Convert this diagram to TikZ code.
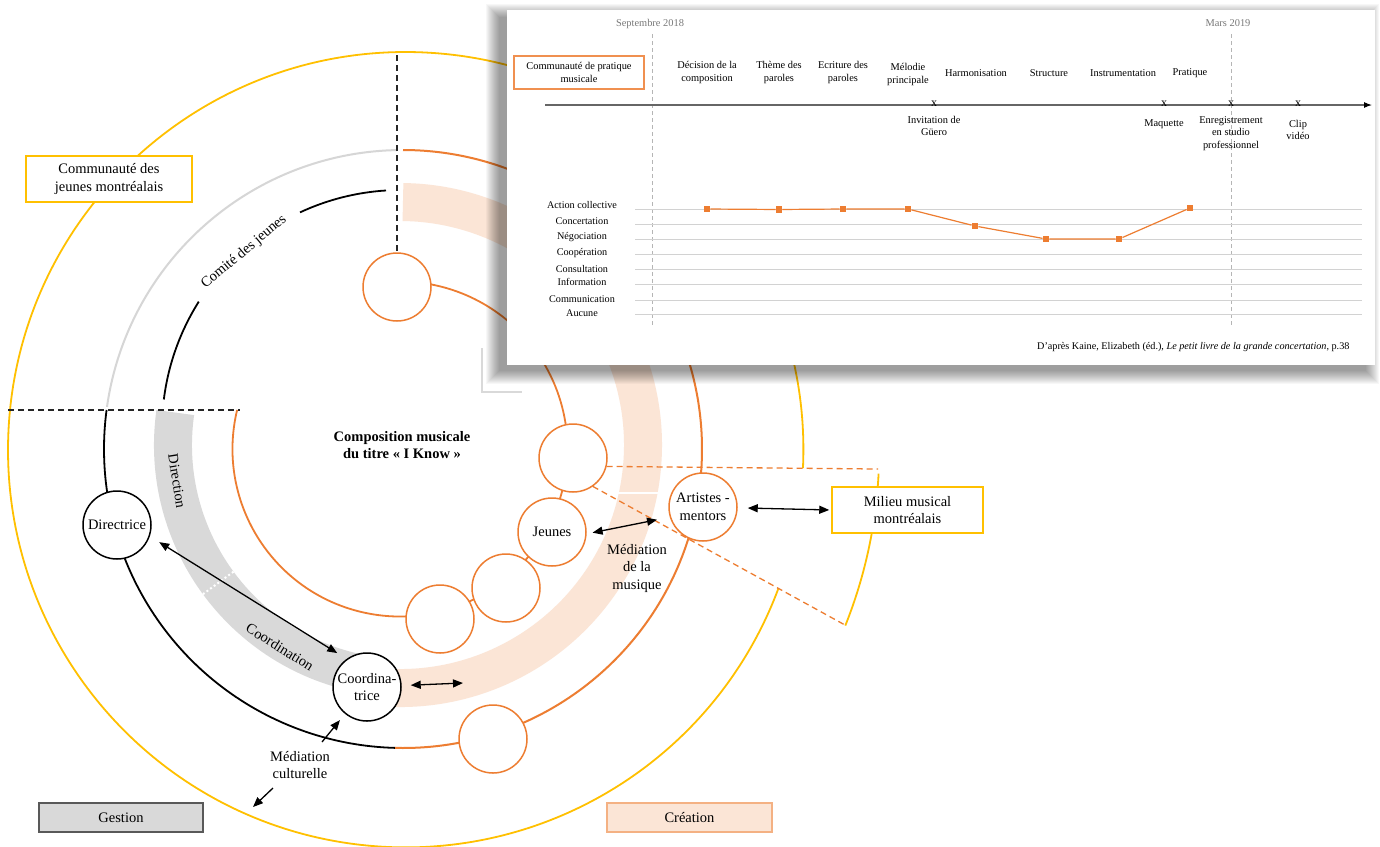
\documentclass[tikz,border=0pt]{standalone}
\usepackage{fontspec}
\setmainfont{Liberation Serif}
\usetikzlibrary{arrows.meta}
\definecolor{orng}{RGB}{237,125,49}
\definecolor{yel}{RGB}{255,192,0}
\definecolor{peach}{RGB}{251,229,214}
\definecolor{bandgray}{RGB}{217,217,217}
\definecolor{ringgray}{RGB}{214,214,214}
\definecolor{crborder}{RGB}{244,177,131}
\definecolor{gridgray}{RGB}{210,210,210}
\definecolor{dategray}{RGB}{120,120,120}
\definecolor{boxedge}{RGB}{89,89,89}
\begin{document}
\begin{tikzpicture}[x=1pt,y=1pt,
  font=\fontsize{14.5}{17.5}\selectfont,
  >={Triangle[length=10pt,width=8pt]},
  ringline/.style={line width=1.8pt},
  ocirc/.style={circle, draw=orng, line width=1.5pt, fill=white, minimum size=68pt, inner sep=0pt, align=center},
  kcirc/.style={circle, draw=black, line width=1.5pt, fill=white, minimum size=68pt, inner sep=0pt, align=center},
  arr/.style={line width=1.3pt},
  kdash/.style={black!85, line width=1.4pt, dash pattern=on 6pt off 4pt},
  odash/.style={orng, line width=1.3pt, dash pattern=on 6pt off 4pt},
  ybox/.style={draw=yel, line width=1.5pt, fill=white, align=center, inner sep=0pt},
  ptext/.style={font=\fontsize{10.4}{12.8}\selectfont, align=center},
  lvltext/.style={font=\fontsize{10.2}{12}\selectfont},
  sqm/.style={rectangle, fill=orng, minimum size=6.5pt, inner sep=0pt},
  xmk/.style={font=\fontsize{12}{12}\selectfont, inner sep=0pt}
]
\useasboundingbox (0,0) rectangle (1380,-846);
\fill[white] (0,0) rectangle (1380,-846);

% ---- the management / creation band ----
\draw[peach, line width=38pt] (400,-445) ++(263:243) arc[start angle=263, end angle=449.3, radius=243];
\draw[bandgray, line width=38pt] (406,-445) ++(172:233) arc[start angle=172, end angle=262, radius=233];
\draw[white, line width=2pt, dash pattern=on 2pt off 2.5pt] (406,-445) ++(216.3:214) -- ++(216.3:38);
\draw[white, line width=1.5pt] (618,-493) -- (660,-493);

% ---- rings ----
\draw[yel, ringline] (405.7,-449.7) ++(-2.64:397.7) arc[start angle=-2.64, end angle=339.6, radius=397.7];
\draw[yel, ringline] (405.7,-449.7) ++(-2.9:473.5) arc[start angle=-2.9, end angle=-21.8, radius=473.5];
\draw[ringgray, line width=2pt] (403,-449) ++(91.2:299) arc[start angle=91.2, end angle=171.9, radius=299];
\draw[black, ringline] (403,-449) ++(172.5:299) arc[start angle=172.5, end angle=268.5, radius=299];
\draw[orng, line width=2pt] (403,-449) ++(268.5:299) arc[start angle=268.5, end angle=450, radius=299];
\draw[orng, ringline] (400,-449) ++(166.5:167.5) arc[start angle=166.5, end angle=452, radius=167.5];
\draw[black, ringline] (401,-429) ++(172.9:239) arc[start angle=172.9, end angle=147.8, radius=239];
\draw[black, ringline] (401,-429) ++(115:239) arc[start angle=115, end angle=93.6, radius=239];

% ---- actors ----
\node[ocirc] (ctop) at (397,-287) {};
\node[ocirc] (c2) at (573,-458) {};
\node[ocirc] (jeu) at (552,-532) {Jeunes};
\node[ocirc] (c4) at (506,-588) {};
\node[ocirc] (c5) at (440,-619) {};
\node[ocirc] (c6) at (493,-739) {};
\node[ocirc] (art) at (703,-507) {Artistes -\\mentors};
\node[kcirc] (dir) at (117,-525) {Directrice};
\node[kcirc] (coord) at (367,-687) {Coordina-\\trice};

% ---- sector of the musical scene ----
\coordinate (w1) at (878,-469);
\coordinate (w2) at (845,-625);
\draw[odash] (c2.-14) -- (w1);
\draw[odash] (c2.-55) -- (w2);

% ---- dashed separators ----
\coordinate (vtop) at (397,-55);
\draw[kdash] (vtop) -- (ctop.north);
\coordinate (hl) at (8,-410);
\coordinate (hr) at (240,-410);
\draw[kdash] (hl) -- (hr);

% ---- boxes ----
\node[ybox, minimum width=166pt, minimum height=46pt] (cjm) at (109,-179) {Communauté des\\jeunes montréalais};
\node[ybox, minimum width=151pt, minimum height=46pt] (mmm) at (907.5,-510) {Milieu musical\\montréalais};
\node[draw=boxedge, fill=bandgray, line width=1.2pt, minimum width=164pt, minimum height=29pt, inner sep=0pt] (ges) at (121,-817.5) {Gestion};
\node[draw=crborder, fill=peach, line width=1.5pt, minimum width=165pt, minimum height=29pt, inner sep=0pt] (cre) at (689.5,-817.5) {Création};

% ---- labels ----
\node[font=\bfseries\fontsize{14.5}{17.5}\selectfont, align=center] (title) at (402,-445) {Composition musicale\\du titre « I Know »};
\node[rotate=40] (comite) at (244,-252) {Comité des jeunes};
\node[rotate=-81] (direction) at (177,-481) {Direction};
\node[rotate=-32] (coordination) at (280,-647) {Coordination};
\node[align=center] (medm) at (637,-568) {Médiation\\de la\\musique};
\node[align=center] (medc) at (300,-765) {Médiation\\culturelle};

% ---- relations ----
\draw[<->, arr, shorten <=11pt, shorten >=11pt] (dir.-19) -- (coord.126);
\coordinate (pk) at (463,-683);
\draw[<->, arr, shorten <=9pt] (coord) -- (pk);
\draw[<->, arr, shorten <=6pt, shorten >=13pt] (jeu.-3) -- (art.197);
\draw[<->, arr, shorten <=10pt, shorten >=2pt] (art) -- (mmm.west);
\coordinate (mc1) at (322,-742);
\draw[->, arr, shorten >=8pt] (mc1) -- (coord);
\coordinate (mc2a) at (273,-788);
\coordinate (mc2b) at (253,-807);
\draw[->, arr] (mc2a) -- (mc2b);

% ---- inset chart ----
\draw[black!15, line width=2.5pt] (482,-348) -- (482,-392) -- (522,-392);
\foreach \k in {0,...,13}
  \fill[black, opacity=0.032] (499-\k,-17+\k) rectangle (1366+\k,-371-\k);
\node[fill=white, inner sep=0pt, minimum width=868pt, minimum height=355pt, anchor=north west] (panel) at (507,-10) {};

\node[ptext, text=dategray] (sep) at (650,-23.5) {Septembre 2018};
\node[ptext, text=dategray] (mars) at (1228,-23.5) {Mars 2019};
\coordinate (sept) at (652.5,-34);
\coordinate (sepb) at (652.5,-325);
\coordinate (marst) at (1231,-34);
\coordinate (marsb) at (1231,-325);
\draw[dategray!55, line width=0.8pt, dash pattern=on 4pt off 3pt] (sept) -- (sepb);
\draw[dategray!55, line width=0.8pt, dash pattern=on 4pt off 3pt] (marst) -- (marsb);

\node[ptext, draw=orng!85, line width=1.1pt, minimum width=130pt, minimum height=33pt, inner sep=0pt] (cpm) at (579,-72.5) {Communauté de pratique\\musicale};

\node[ptext] (h1) at (707,-72.5) {Décision de la\\composition};
\node[ptext] (h2) at (779,-72.5) {Thème des\\paroles};
\node[ptext] (h3) at (843,-72.5) {Ecriture des\\paroles};
\node[ptext] (h4) at (908,-74.5) {Mélodie\\principale};
\node[ptext] (h5) at (976,-73) {Harmonisation};
\node[ptext] (h6) at (1049,-73) {Structure};
\node[ptext] (h7) at (1123,-73) {Instrumentation};
\node[ptext] (h8) at (1190,-73) {Pratique};

\coordinate (ax0) at (545,-105);
\coordinate (ax1) at (1372,-105);
\draw[black!60, line width=1.1pt, -{Latex[length=8pt,width=6pt,black]}] (ax0) -- (ax1);
\node[xmk] (x1) at (934,-104) {x};
\node[xmk] (x2) at (1164,-104) {x};
\node[xmk] (x3) at (1231,-104) {x};
\node[xmk] (x4) at (1298,-104) {x};
\node[ptext] (ev1) at (934,-126) {Invitation de\\Güero};
\node[ptext] (ev2) at (1164,-124) {Maquette};
\node[ptext] (ev3) at (1231,-133.5) {Enregistrement\\en studio\\professionnel};
\node[ptext] (ev4) at (1298,-130) {Clip\\vidéo};

\foreach \y in {209,224,239,254,269,284,300,314}
  \draw[gridgray, line width=0.9pt] (635,-\y) -- (1362,-\y);
\node[lvltext] (l1) at (582,-205.5) {Action collective};
\node[lvltext] (l2) at (582,-221) {Concertation};
\node[lvltext] (l3) at (582,-237) {Négociation};
\node[lvltext] (l4) at (582,-253) {Coopération};
\node[lvltext] (l5) at (582,-269) {Consultation};
\node[lvltext] (l6) at (582,-282) {Information};
\node[lvltext] (l7) at (582,-299.5) {Communication};
\node[lvltext] (l8) at (582,-313) {Aucune};

\foreach \n/\x/\y in {1/707/209, 2/779/209.5, 3/843/209, 4/908/209, 5/975/226, 6/1046/239, 7/1119/239, 8/1190/208}
  \node[sqm] (d\n) at (\x,-\y) {};
\draw[orng, line width=1.2pt] (d1) -- (d2) -- (d3) -- (d4) -- (d5) -- (d6) -- (d7) -- (d8);

\node[lvltext, anchor=east] (src) at (1353,-347) {D’après Kaine, Elizabeth (éd.), \textit{Le petit livre de la grande concertation}, p.38};
\end{tikzpicture}
\end{document}
